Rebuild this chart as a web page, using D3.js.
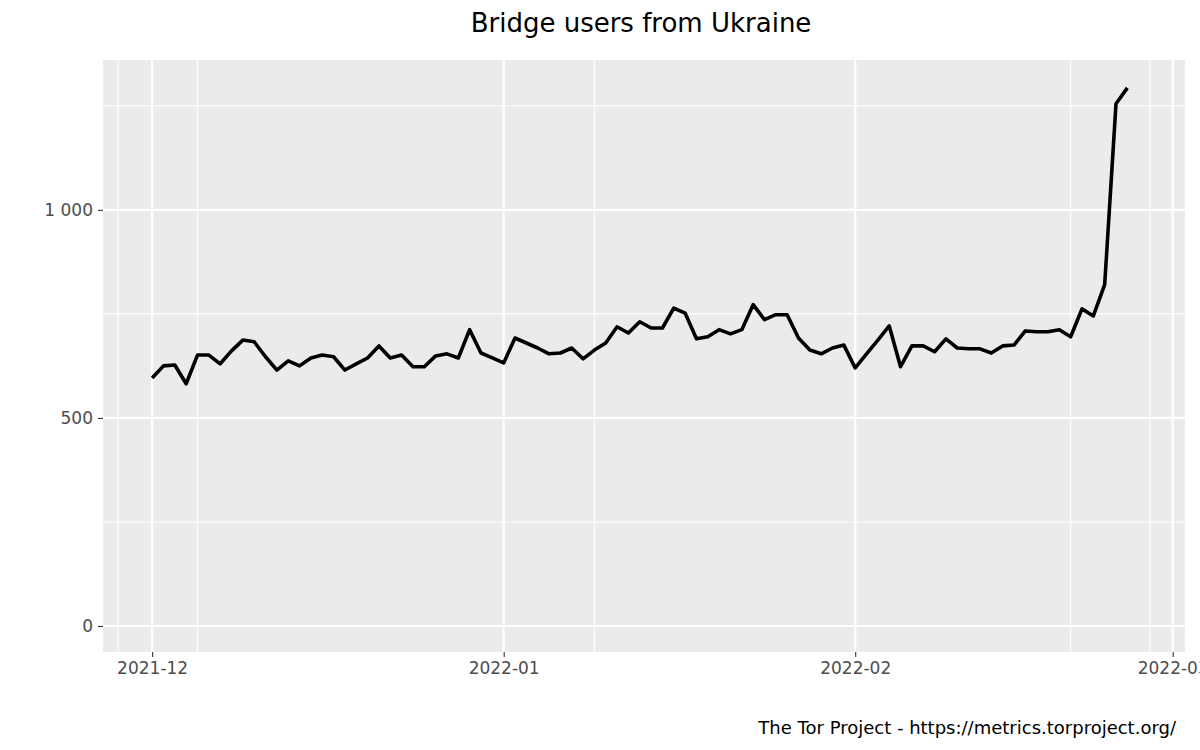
<!DOCTYPE html>
<html><head><meta charset="utf-8">
<script src="https://cdn.jsdelivr.net/npm/d3@7"></script>
<style>body{margin:0;background:#fff}text{font-family:"DejaVu Sans",sans-serif}</style>
</head><body><svg id="c" width="1200" height="750"></svg>
<script>
const startDate = "2021-12-01";
const users = [596,625,627,582,651,651,630,661,687,683,647,615,637,625,644,651,647,615,630,644,673,644,651,623,623,649,654,644,712,656,644,
632,692,680,668,654,656,668,642,663,680,719,704,731,716,716,764,752,690,695,712,702,712,772,736,748,748,692,663,654,668,675,
620,654,687,721,623,673,673,659,690,668,666,666,656,673,675,709,707,707,712,695,762,745,820,1255,1293];
const majorDates = ["2021-12-01","2022-01-01","2022-02-01","2022-03-01"];
const majorLabels = ["2021-12","2022-01","2022-02","2022-03"];
const minorDates = ["2021-11-28","2021-12-05","2022-01-09","2022-02-20","2022-02-27"];
const yMajor = [0,500,1000];
const yMinor = [250,750,1250];

const parse = d3.utcParse("%Y-%m-%d");
const t0 = parse(startDate);
const data = users.map((v,i)=>({d:d3.utcDay.offset(t0,i),v}));
const svg = d3.select("#c");
const L=103,R=1185,T=60,B=652;
const x = d3.scaleUtc().domain([d3.utcHour.offset(t0,-104), d3.utcHour.offset(t0,Math.round(24*91.1))]).range([L,R]);
const y = d3.scaleLinear().domain([-62.5,1360]).range([B,T]);
svg.append("rect").attr("x",L).attr("y",T).attr("width",R-L).attr("height",B-T).attr("fill","#ebebeb");
const g = svg.append("g");
yMinor.forEach(v=>g.append("line").attr("x1",L).attr("x2",R).attr("y1",y(v)).attr("y2",y(v)).attr("stroke","#fff").attr("stroke-width",1.1));
minorDates.forEach(s=>g.append("line").attr("x1",x(parse(s))).attr("x2",x(parse(s))).attr("y1",T).attr("y2",B).attr("stroke","#fff").attr("stroke-width",1.1));
yMajor.forEach(v=>g.append("line").attr("x1",L).attr("x2",R).attr("y1",y(v)).attr("y2",y(v)).attr("stroke","#fff").attr("stroke-width",2.2));
majorDates.forEach(s=>g.append("line").attr("x1",x(parse(s))).attr("x2",x(parse(s))).attr("y1",T).attr("y2",B).attr("stroke","#fff").attr("stroke-width",2.2));
svg.append("path").datum(data).attr("fill","none").attr("stroke","#000").attr("stroke-width",3.6).attr("stroke-linejoin","round")
 .attr("d",d3.line().x(d=>x(d.d)).y(d=>y(d.v)));
const fmt = v=>d3.format(",")(v).replace(/,/g," ");
const ya = svg.append("g").attr("transform",`translate(${L},0)`).call(d3.axisLeft(y).tickValues(yMajor).tickFormat(fmt).tickSize(5).tickPadding(5));
const xa = svg.append("g").attr("transform",`translate(0,${B})`).call(d3.axisBottom(x).tickValues(majorDates.map(parse)).tickFormat((d,i)=>majorLabels[i]).tickSize(5).tickPadding(5));
[ya,xa].forEach(a=>{a.select(".domain").remove();a.selectAll("line").attr("stroke","#333").attr("stroke-width",1.1);a.selectAll("text").attr("fill","#4d4d4d").style("font-size","17px").style("font-family","DejaVu Sans");});
svg.append("text").attr("x",641).attr("y",32).attr("text-anchor","middle").style("font-size","26px").text("Bridge users from Ukraine");
svg.append("text").attr("x",1176).attr("y",734).attr("text-anchor","end").style("font-size","18px").text("The Tor Project - https://metrics.torproject.org/");
</script></body></html>
